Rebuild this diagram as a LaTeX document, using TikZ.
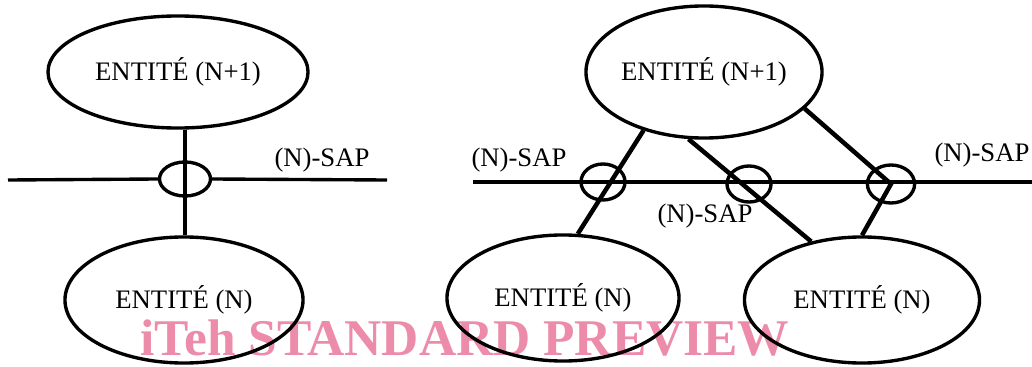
\documentclass[tikz,border=0pt]{standalone}
\usepackage{fontspec}
\setmainfont{Liberation Serif}
\usepackage{tikz}
\usetikzlibrary{shapes.geometric}
\definecolor{stampred}{RGB}{236,140,170}

\begin{document}
\begin{tikzpicture}[
    x=0.025cm, y=-0.025cm,
    entity/.style={draw, ellipse, line width=2.4pt, inner sep=0pt,
                   font=\fontsize{19}{22}\selectfont},
    sap/.style={draw, ellipse, line width=2.4pt, inner sep=0pt,
                minimum width=1.1cm, minimum height=0.9cm},
    saplbl/.style={font=\fontsize{19}{22}\selectfont, inner sep=0pt},
    line/.style={line width=2.4pt},
    link/.style={line width=3.2pt}
]
\useasboundingbox (0,0) rectangle (1032,367);
\node[font=\fontsize{36.6}{40}\selectfont\bfseries, text=stampred,
      anchor=base west, inner sep=0pt] (stamp) at (140,355) {iTeh STANDARD PREVIEW};

% single access point
\node[entity, minimum width=6.5cm, minimum height=2.8cm] (upA) at (178,72) {ENTITÉ (N+1)};
\node[entity, minimum width=5.95cm, minimum height=3.15cm] (lowA) at (184,300) {ENTITÉ (N)};
\node[sap, minimum width=1.275cm, minimum height=0.85cm] (sapA) at (185,179) {};
\node[saplbl] (lblA) at (322,160) {(N)-SAP};
\coordinate (westA) at (8,180);
\coordinate (eastA) at (387,180);
\draw[line] (westA) -- (sapA.west);
\draw[line] (sapA.east) -- (eastA);
\draw[line] (sapA |- upA.south) -- (sapA |- lowA.north);

% several access points
\node[entity, minimum width=5.9cm, minimum height=3.3cm] (topR) at (704,72) {ENTITÉ (N+1)};
\node[entity, minimum width=5.8cm, minimum height=3.15cm] (botL) at (563,298) {ENTITÉ (N)};
\node[entity, minimum width=5.875cm, minimum height=3.15cm] (botR) at (862,300) {ENTITÉ (N)};
\node[sap] (sap1) at (603,182) {};
\node[sap] (sap2) at (749,184) {};
\node[sap, minimum width=1.18cm, minimum height=0.95cm] (sap3) at (891,184) {};
\node[saplbl] (lblB) at (519,160) {(N)-SAP};
\node[saplbl] (lblC) at (705,216) {(N)-SAP};
\node[saplbl] (lblD) at (982,155) {(N)-SAP};
\coordinate (westB) at (473,182);
\coordinate (eastB) at (1032,182);
\draw[line] (westB) -- (eastB);
\draw[link] (topR.224.5) -- (botL.77.5);
\draw[link] (topR.257) -- (botR.131.3);
\draw[link] (topR.-20) -- (sap3.center) -- (botR.north);
\end{tikzpicture}
\end{document}
